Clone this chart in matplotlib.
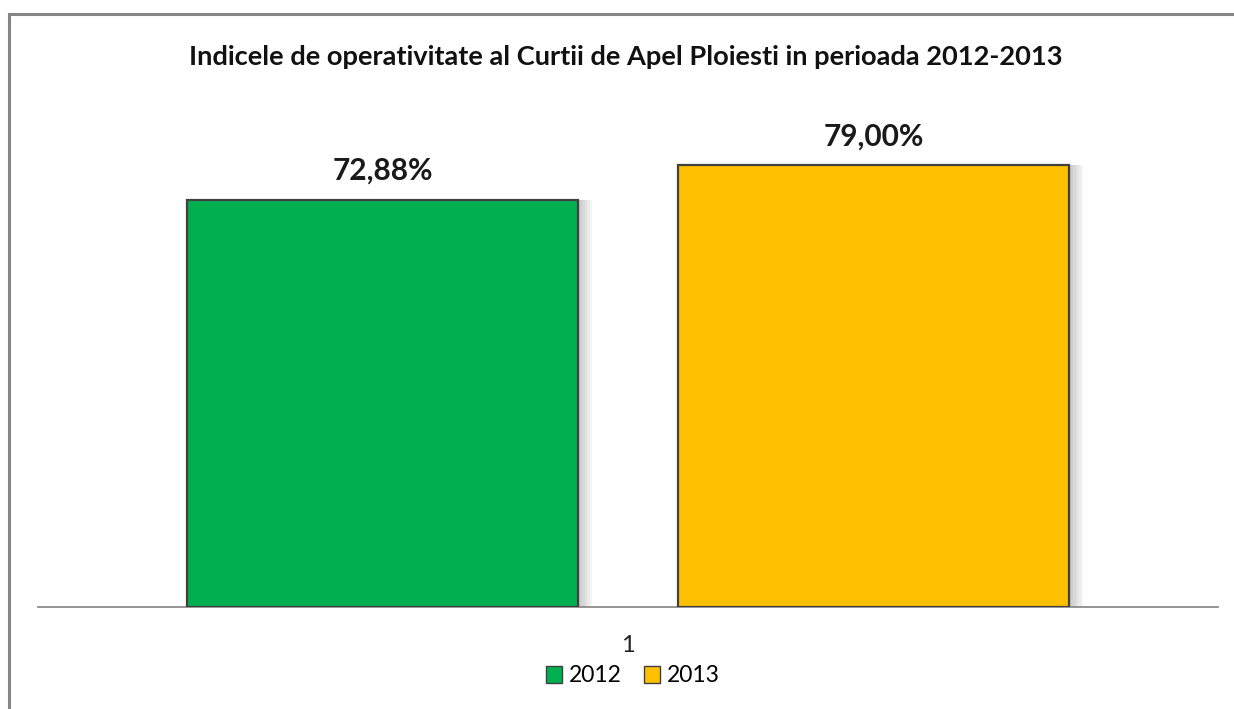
import matplotlib
matplotlib.use("Agg")
import matplotlib.pyplot as plt
from matplotlib.lines import Line2D
from matplotlib.patches import Patch

title = "Indicele de operativitate al Curtii de Apel Ploiesti in perioada 2012-2013"
series = ["2012", "2013"]
values = [72.88, 79.00]
labels = ["72,88%", "79,00%"]
category = "1"
colors = ["#00B050", "#FFC000"]

plt.rcParams['font.family'] = ['Lato', 'DejaVu Sans']

W, H = 1234, 709
fig = plt.figure(figsize=(W / 100, H / 100), dpi=100)
fig.patch.set_facecolor("white")

ax = fig.add_axes([38 / W, 1 - 607 / H, 1180 / W, (607 - 104) / H])
positions = [-0.5, 0.5]
width = 0.798

# soft shadow to the right of each bar
for k in range(6):
    off = 0.003 + k * 0.005
    ax.bar([p + off for p in positions], values, width=width,
           color="black", alpha=0.04, linewidth=0, zorder=1)

bars = ax.bar(positions, values, width=width, color=colors,
              edgecolor="#404040", linewidth=1.6, zorder=3)

for b, lab in zip(bars, labels):
    ax.annotate(lab, (b.get_x() + b.get_width() / 2, b.get_height()),
                xytext=(0, 11), textcoords="offset points",
                ha="center", va="bottom", fontsize=21.5, fontweight="bold",
                color="#1a1a1a")

ax.set_xlim(-1.2016, 1.2016)
ax.set_ylim(0, 90)
ax.set_yticks([])
ax.set_xticks([0])
ax.set_xticklabels([category], fontsize=17, color="#222222")
ax.tick_params(axis="x", length=0, pad=20)
for s in ["top", "right", "left"]:
    ax.spines[s].set_visible(False)
ax.spines["bottom"].set_color("#8c8c8c")
ax.spines["bottom"].set_linewidth(1.3)
ax.set_facecolor("none")

fig.text(626 / W, 1 - 57 / H, title, ha="center", va="center",
         fontsize=19.6, fontweight="bold", color="#111111")

handles = [Patch(facecolor=c, edgecolor="#404040", linewidth=1.0, label=s)
           for c, s in zip(colors, series)]
fig.legend(handles=handles, loc="center", bbox_to_anchor=(633 / W, 1 - 676 / H),
           ncol=2, frameon=False, fontsize=16.5, handlelength=0.7,
           handleheight=0.7, handletextpad=0.3, columnspacing=1.0)

# outer chart border (top and left visible, extends past right/bottom)
fig.add_artist(Line2D([9 / W, 9 / W], [0, 1 - 14 / H], transform=fig.transFigure,
                      color="#868686", linewidth=2.2))
fig.add_artist(Line2D([9 / W, 1], [1 - 14 / H, 1 - 14 / H], transform=fig.transFigure,
                      color="#868686", linewidth=2.2))

fig.savefig("out.png", dpi=100, facecolor="white")
